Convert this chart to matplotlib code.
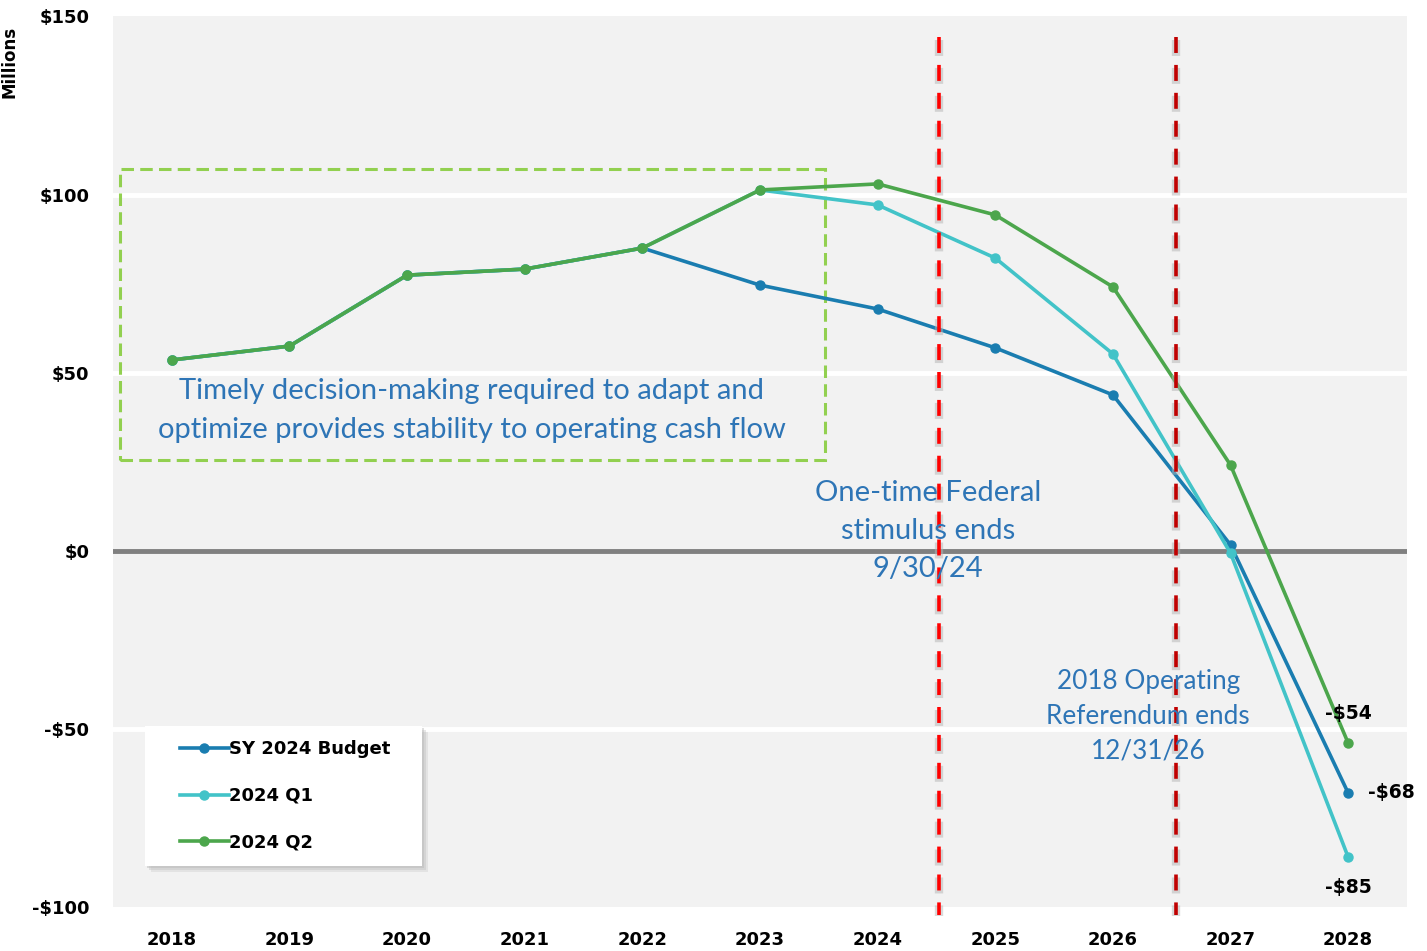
import matplotlib
matplotlib.use("Agg")
import matplotlib.pyplot as plt
from matplotlib.patches import Rectangle

plt.rcParams['lines.scale_dashes'] = False

years = ["2018", "2019", "2020", "2021", "2022", "2023", "2024", "2025", "2026", "2027", "2028"]
budget = [53.6, 57.5, 77.4, 79.1, 85.0, 74.6, 67.9, 57.0, 43.8, 1.7, -67.9]
q1 = [53.6, 57.5, 77.4, 79.1, 85.0, 101.3, 97.1, 82.2, 55.3, -0.6, -85.9]
q2 = [53.6, 57.5, 77.4, 79.1, 85.0, 101.3, 103.0, 94.3, 74.1, 24.1, -53.9]
series_names = ["SY 2024 Budget", "2024 Q1", "2024 Q2"]
series_colors = ["#1A7DB0", "#42C3C8", "#4CA64C"]
end_labels = ["-$68", "-$85", "-$54"]
yticks = [-100, -50, 0, 50, 100, 150]
ytick_labels = ["-$100", "-$50", "$0", "$50", "$100", "$150"]
event_positions = [6.52, 8.54]
event_colors = ["#FF0000", "#C00000"]
event_texts = ["One-time Federal\nstimulus ends\n9/30/24", "2018 Operating\nReferendum ends\n12/31/26"]
box_text = "Timely decision-making required to adapt and\noptimize provides stability to operating cash flow"

W, H = 1427, 951
fig = plt.figure(figsize=(W / 100, H / 100), dpi=100)
ax = fig.add_axes([113 / W, (H - 907.4) / H, (1407 - 113) / W, (907.4 - 16.4) / H])
ax.set_facecolor("#F2F2F2")
x = list(range(len(years)))
ax.set_xlim(-0.5, len(years) - 0.5)
ax.set_ylim(-100, 150)

for s in ax.spines.values():
    s.set_visible(False)

# gridlines
for v in [-50, 50, 100]:
    ax.axhline(v, color="white", lw=3.5, zorder=1)
ax.axhline(0, color="#808080", lw=3.5, zorder=1)

ax.set_xticks(x)
ax.set_xticklabels(years, fontsize=13, fontweight="bold")
ax.set_yticks(yticks)
ax.set_yticklabels(ytick_labels, fontsize=13, fontweight="bold")
ax.tick_params(length=0)
ax.tick_params(axis="x", pad=17)
ax.tick_params(axis="y", pad=17)

fig.text(10 / W, 1 - 62 / H, "Millions", rotation=90, fontsize=12, fontweight="bold",
         ha="center", va="center")

# green dashed box
box = Rectangle((-0.44, 25.5), 5.99, 81.7, fill=False, edgecolor="#92D050", lw=2.2,
                linestyle=(0, (9, 4.5)), zorder=2)
ax.add_patch(box)
ax.text(2.55, 39.3, box_text, ha="center", va="center", fontsize=21, color="#2E75B6",
        family="Lato", linespacing=1.62, zorder=3)

# series
handles = []
for vals, name, col in zip([budget, q1, q2], series_names, series_colors):
    h, = ax.plot(x, vals, color=col, lw=2.6, marker="o", markersize=6.5, label=name, zorder=4)
    handles.append(h)

# end labels
lab_kw = dict(fontsize=13.5, fontweight="bold", zorder=6, textcoords="offset points")
ax.annotate(end_labels[0], (10, budget[-1]), xytext=(14, 0), ha="left", va="center", **lab_kw)
ax.annotate(end_labels[1], (10, q1[-1]), xytext=(0, -22), ha="center", va="center", **lab_kw)
ax.annotate(end_labels[2], (10, q2[-1]), xytext=(0, 21), ha="center", va="center", **lab_kw)

# event lines
for pos, col in zip(event_positions, event_colors):
    ax.plot([pos, pos], [143.5, -102.5], color="#B4B4B4", lw=6, alpha=0.5,
            dashes=(11.5, 8.6), clip_on=False, zorder=4.5)
    ax.plot([pos, pos], [144.3, -102], color=col, lw=2.6, dashes=(11.5, 8.6),
            clip_on=False, zorder=5)

ax.text(6.43, 5.6, event_texts[0], ha="center", va="center", fontsize=21, color="#2E75B6",
        family="Lato", linespacing=1.57, zorder=6)
ax.text(8.30, -46.3, event_texts[1], ha="center", va="center", fontsize=18.8, color="#2E75B6",
        family="Lato", linespacing=1.5, zorder=6)

# legend frame with soft shadow (figure pixel coords)
lx0, ly0, lx1, ly1 = 145, 726, 422, 866
for off, alpha in [(6, 0.25), (4, 0.35), (2, 0.45)]:
    fig.patches.append(Rectangle(((lx0 + off) / W, 1 - (ly1 + off) / H),
                                 (lx1 - lx0) / W, (ly1 - ly0) / H,
                                 transform=fig.transFigure, facecolor="#B8B8B8",
                                 edgecolor="none", alpha=alpha, zorder=8))
fig.patches.append(Rectangle((lx0 / W, 1 - ly1 / H), (lx1 - lx0) / W, (ly1 - ly0) / H,
                             transform=fig.transFigure, facecolor="white",
                             edgecolor="none", zorder=9))

leg = fig.legend(handles=handles, loc="upper left",
                 bbox_to_anchor=(180 / W, 1 - 740 / H), bbox_transform=fig.transFigure,
                 prop={"weight": "bold", "size": 13},
                 frameon=False, handlelength=2.7, handletextpad=0.0, labelspacing=1.6,
                 borderpad=0.0, borderaxespad=0)
leg.set_zorder(10)

fig.savefig("out.png", dpi=100)
